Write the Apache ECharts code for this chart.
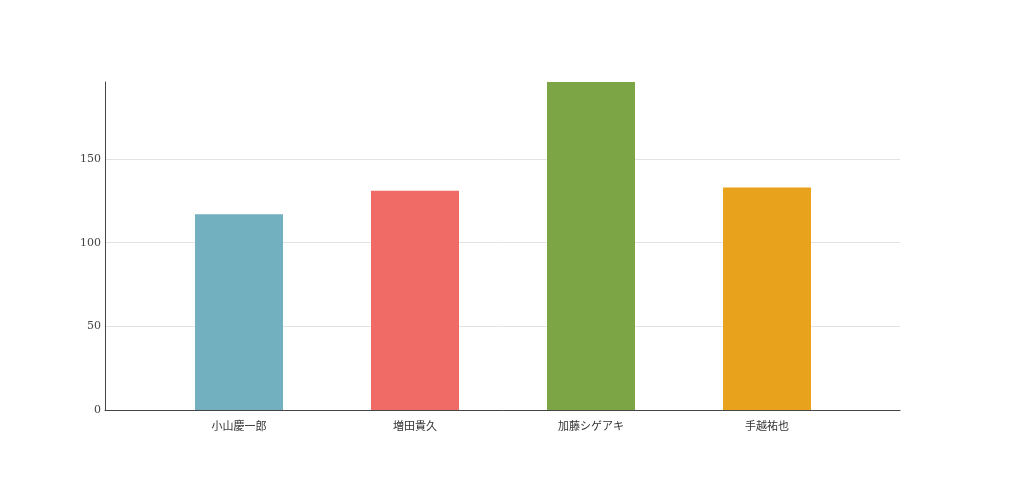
<!DOCTYPE html>
<html><head><meta charset="utf-8">
<script src="https://cdn.jsdelivr.net/npm/echarts@6/dist/echarts.min.js"></script>
<style>html,body{margin:0;padding:0;background:#fff}#c{width:1023px;height:500px}</style>
</head><body><div id="c"></div>
<script>
const categories = ['小山慶一郎', '増田貴久', '加藤シゲアキ', '手越祐也'];
const values = [117, 131, 196, 133];
const colors = ['#72b0c0', '#f06b65', '#7ca546', '#e8a21c'];
const yTicks = [0, 50, 100, 150];
const yMax = Math.max(...values);

const chart = echarts.init(document.getElementById('c'));
chart.setOption({
  animation: false,
  grid: [
    { left: 105, right: 123, top: 82, bottom: 90 },
    { left: 151, right: 168, top: 82, bottom: 90 }
  ],
  xAxis: [{
    gridIndex: 0,
    type: 'value',
    min: 0, max: 1,
    axisLine: { show: true, lineStyle: { color: '#444', width: 1 } },
    axisTick: { show: false },
    axisLabel: { show: false },
    splitLine: { show: false }
  }, {
    gridIndex: 1,
    type: 'category',
    data: categories,
    axisLine: { show: false },
    axisTick: { show: false },
    axisLabel: { color: '#333', fontSize: 11, margin: 10, fontFamily: 'Noto Sans CJK JP' }
  }],
  yAxis: [{
    gridIndex: 0,
    type: 'value',
    min: 0,
    max: yMax,
    interval: 50,
    axisLine: { show: true, lineStyle: { color: '#444', width: 1 } },
    axisTick: { show: false },
    splitLine: { showMaxLine: false, lineStyle: { color: '#e3e3e3', width: 1 } },
    axisLabel: {
      color: '#444', fontSize: 11, margin: 4, fontFamily: 'DejaVu Serif',
      showMaxLabel: false,
      formatter: v => yTicks.includes(v) ? String(v) : ''
    }
  }, {
    gridIndex: 1,
    type: 'value',
    min: 0,
    max: yMax,
    show: false
  }],
  series: [{
    type: 'bar',
    xAxisIndex: 1,
    yAxisIndex: 1,
    barWidth: 88,
    data: values.map((v, i) => ({ value: v, itemStyle: { color: colors[i] } }))
  }]
});
</script></body></html>
